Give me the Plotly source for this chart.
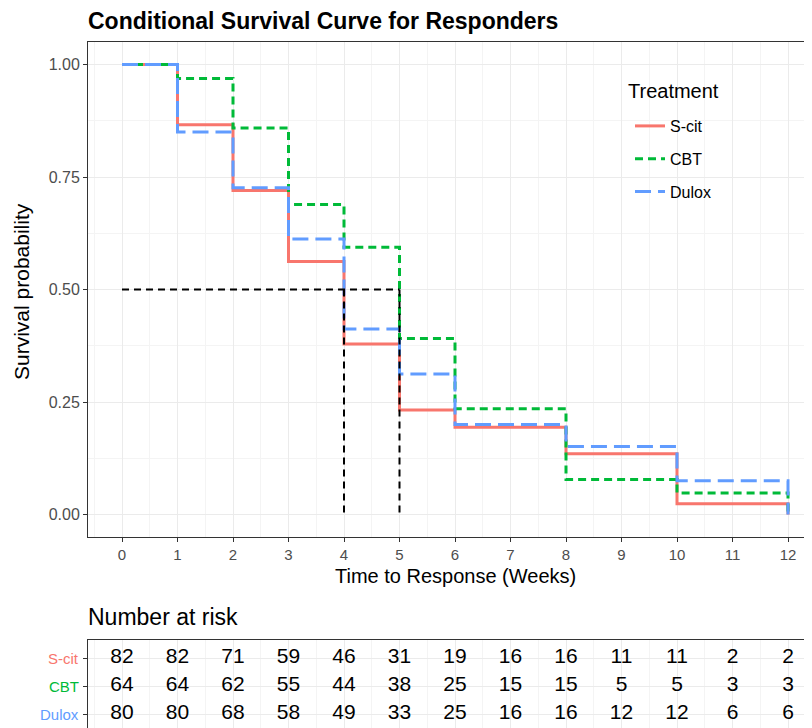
import plotly.graph_objects as go

OFF = 8  # page body margin offset
PAGE_W, PAGE_H = 812, 728
W, H = PAGE_W - OFF, PAGE_H - OFF

# ---- data ----
weeks = [0, 1, 2, 3, 4, 5, 6, 8, 10, 12]
scit_surv = [1.0, 0.866, 0.720, 0.562, 0.379, 0.232, 0.194, 0.135, 0.024, 0.0]
cbt_surv = [1.0, 0.969, 0.859, 0.689, 0.594, 0.391, 0.235, 0.078, 0.048, 0.0]
dulox_surv = [1.0, 0.850, 0.726, 0.612, 0.412, 0.312, 0.200, 0.151, 0.075, 0.0]

groups = ["S-cit", "CBT", "Dulox"]
colors = ["#F8766D", "#00BA38", "#619CFF"]

risk_times = list(range(13))
risk_scit = [82, 82, 71, 59, 46, 31, 19, 16, 16, 11, 11, 2, 2]
risk_cbt = [64, 64, 62, 55, 44, 38, 25, 15, 15, 5, 5, 3, 3]
risk_dulox = [80, 80, 68, 58, 49, 33, 25, 16, 16, 12, 12, 6, 6]

median_times = [4, 5]
median_level = 0.5

x_ticks = list(range(13))
y_ticks = [0, 0.25, 0.5, 0.75, 1.0]
y_ticklabels = ["0.00", "0.25", "0.50", "0.75", "1.00"]

FONT = "Liberation Sans, Arial, sans-serif"

def fx(p):
    return (p - OFF) / W

def fy(p):
    return 1 - (p - OFF) / H

# ---- geometry in reference (page) pixels ----
L = 88
main_top, main_bot = 42, 537
tab_top = 640
x0px, x12px = 122, 788
ppu = (x12px - x0px) / 12.0
right_px = OFF + W
bottom_px = OFF + H
xr = [(L - x0px) / ppu, (right_px - x0px) / ppu]

row_px = [658, 686, 714]
row_y = [3, 2, 1]
row_step = 28.0
y2r = [1 - (bottom_px - row_px[2]) / row_step, 3 + (row_px[0] - tab_top) / row_step]

fig = go.Figure()

dashes = ["solid", "8px,5px", "16px,7px"]
series = [scit_surv, cbt_surv, dulox_surv]
for name, col, d, s in zip(groups, colors, dashes, series):
    fig.add_trace(go.Scatter(
        x=weeks, y=s, mode="lines", name=name, legendgroup=name,
        line=dict(color=col, width=3, dash=d, shape="hv"),
        xaxis="x", yaxis="y", hoverinfo="skip"))

# median lines
fig.add_trace(go.Scatter(
    x=[0, max(median_times)], y=[median_level, median_level], mode="lines",
    line=dict(color="black", width=2, dash="7px,5px"), showlegend=False,
    xaxis="x", yaxis="y", hoverinfo="skip"))
for t in median_times:
    fig.add_trace(go.Scatter(
        x=[t, t], y=[median_level, 0], mode="lines",
        line=dict(color="black", width=2, dash="7px,5px"), showlegend=False,
        xaxis="x", yaxis="y", hoverinfo="skip"))

# risk table
risk_rows = [risk_scit, risk_cbt, risk_dulox]
for vals, yv in zip(risk_rows, row_y):
    fig.add_trace(go.Scatter(
        x=risk_times, y=[yv] * len(risk_times), mode="text",
        text=[str(v) for v in vals], textposition="middle center",
        textfont=dict(family=FONT, size=21, color="black"), cliponaxis=False,
        showlegend=False, xaxis="x2", yaxis="y2", hoverinfo="skip"))

grid_c = "#EBEBEB"
minor_c = "#F4F4F4"

fig.update_layout(
    template="none",
    width=W, height=H,
    margin=dict(l=0, r=0, t=0, b=0, pad=0),
    paper_bgcolor="white", plot_bgcolor="white",
    font=dict(family=FONT, color="#4D4D4D"),
    xaxis=dict(domain=[fx(L), 1], range=xr, tickvals=x_ticks,
               showgrid=True, gridcolor=grid_c, gridwidth=1,
               minor=dict(dtick=0.5, showgrid=True, gridcolor=minor_c, gridwidth=1),
               ticks="outside", ticklen=4, tickcolor="#333333",
               tickfont=dict(size=15, color="#4D4D4D"),
               showline=True, linecolor="#333333", linewidth=1, mirror=True,
               zeroline=False, anchor="y", automargin=False),
    yaxis=dict(domain=[fy(main_bot), fy(main_top)], range=[-0.05, 1.05],
               tickvals=y_ticks, ticktext=y_ticklabels,
               showgrid=True, gridcolor=grid_c,
               minor=dict(tickvals=[0.125, 0.375, 0.625, 0.875], showgrid=True, gridcolor=minor_c),
               ticks="outside", ticklen=4, tickcolor="#333333",
               tickfont=dict(size=16, color="#4D4D4D"),
               showline=True, linecolor="#333333", linewidth=1, mirror=False,
               zeroline=False, anchor="x", automargin=False),
    xaxis2=dict(domain=[fx(L), 1], range=xr, tickvals=x_ticks,
                showticklabels=False, showgrid=True, gridcolor=grid_c,
                minor=dict(dtick=0.5, showgrid=True, gridcolor=minor_c),
                ticks="", showline=True, linecolor="#333333", linewidth=1, mirror=True,
                zeroline=False, anchor="y2", automargin=False),
    yaxis2=dict(domain=[0, fy(tab_top)], range=y2r,
                tickvals=row_y, showticklabels=False,
                showgrid=True, gridcolor=grid_c,
                ticks="outside", ticklen=4, tickcolor="#333333",
                showline=True, linecolor="#333333", linewidth=1, mirror=False,
                zeroline=False, anchor="x2", automargin=False),
    legend=dict(x=fx(630), y=fy(109), xanchor="left", yanchor="top",
                bgcolor="rgba(0,0,0,0)", borderwidth=0,
                font=dict(family=FONT, size=16, color="black"),
                itemwidth=30, tracegroupgap=9),
    showlegend=True,
)

# white box behind legend
fig.add_shape(type="rect", xref="paper", yref="paper", layer="below",
              x0=fx(614), x1=fx(736), y0=fy(214), y1=fy(70),
              fillcolor="white", line=dict(width=0))

# colored row labels in risk table
for g, c, ypx in zip(groups, colors, row_px):
    fig.add_annotation(x=fx(L - 7), y=fy(ypx), xref="paper", yref="paper",
                       text=g, showarrow=False, xanchor="right", yanchor="middle",
                       font=dict(family=FONT, size=15, color=c))

# titles
fig.add_annotation(x=fx(L - 2), y=fy(21), xref="paper", yref="paper",
                   text="<b>Conditional Survival Curve for Responders</b>",
                   showarrow=False, xanchor="left", yanchor="middle",
                   font=dict(family=FONT, size=23, color="black"))
fig.add_annotation(x=fx((x0px + x12px) / 2), y=fy(576), xref="paper", yref="paper",
                   text="Time to Response (Weeks)", showarrow=False,
                   xanchor="center", yanchor="middle",
                   font=dict(family=FONT, size=20, color="black"))
fig.add_annotation(x=fx(22), y=fy(292), xref="paper", yref="paper",
                   text="Survival probability", showarrow=False, textangle=-90,
                   xanchor="center", yanchor="middle",
                   font=dict(family=FONT, size=21, color="black"))
fig.add_annotation(x=fx(L - 2), y=fy(617), xref="paper", yref="paper",
                   text="Number at risk", showarrow=False,
                   xanchor="left", yanchor="middle",
                   font=dict(family=FONT, size=23, color="black"))
fig.add_annotation(x=fx(626), y=fy(91), xref="paper", yref="paper",
                   text="Treatment", showarrow=False,
                   xanchor="left", yanchor="middle",
                   font=dict(family=FONT, size=20, color="black"))

fig.write_html("out.html")
